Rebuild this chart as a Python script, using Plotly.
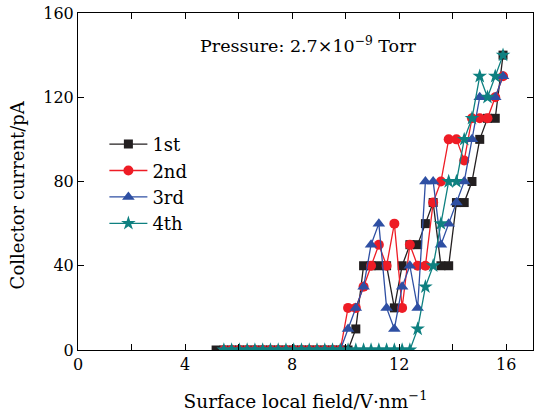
import plotly.graph_objects as go

# Shared field grid (V/nm)
field = [5.16, 5.45, 5.74, 6.03, 6.32, 6.61, 6.90, 7.19, 7.48, 7.77,
         8.06, 8.35, 8.64, 8.93, 9.22, 9.51, 9.80, 10.09, 10.38, 10.67,
         10.95, 11.24, 11.53, 11.82, 12.11, 12.40, 12.69, 12.98, 13.27, 13.56,
         13.85, 14.14, 14.43, 14.72, 15.01, 15.30, 15.59, 15.88]

x_1st = field
y_1st = [0, 0, 0, 0, 0, 0, 0, 0, 0, 0,
         0, 0, 0, 0, 0, 0, 0, 0, 10, 40,
         40, 40, 40, 20, 40, 50, 50, 60, 70, 40,
         40, 70, 70, 80, 100, 110, 110, 140]

x_2nd = field[1:]
y_2nd = [0, 0, 0, 0, 0, 0, 0, 0, 0,
         0, 0, 0, 0, 0, 0, 0, 20, 20, 30,
         40, 50, 40, 60, 20, 50, 40, 40, 70, 80,
         100, 100, 90, 110, 110, 110, 120, 130]

x_3rd = field[1:]
y_3rd = [0, 0, 0, 0, 0, 0, 0, 0, 0,
         0, 0, 0, 0, 0, 0, 0, 10, 20, 30,
         50, 60, 20, 10, 30, 40, 20, 80, 80, 50,
         60, 70, 80, 100, 120, 120, 120, 130]

x_4th = field[1:]
y_4th = [0, 0, 0, 0, 0, 0, 0, 0, 0,
         0, 0, 0, 0, 0, 0, 0, 0, 0, 0,
         0, 0, 0, 0, 0, 0, 10, 30, 40, 60,
         80, 80, 100, 110, 130, 120, 130, 140]

names = ["1st", "2nd", "3rd", "4th"]
colors = ["#231f20", "#ee1c25", "#2e4fa3", "#0e8080"]
symbols = ["square", "circle", "triangle-up", "star"]
sizes = [9, 10, 11, 11]
xs = [x_1st, x_2nd, x_3rd, x_4th]
ys = [y_1st, y_2nd, y_3rd, y_4th]

serif = "DejaVu Serif, Liberation Serif, serif"

fig = go.Figure()
for n, c, s, sz, x, y in zip(names, colors, symbols, sizes, xs, ys):
    fig.add_trace(go.Scatter(
        x=x, y=y, name=n, mode="lines+markers",
        line=dict(color=c, width=1.3),
        marker=dict(symbol=s, size=sz, color=c, line=dict(width=0)),
    ))

fig.add_annotation(
    x=0.507, y=0.944, xref="paper", yref="paper",
    text="Pressure: 2.7×10<sup>−9</sup> Torr", showarrow=False,
    font=dict(family=serif, size=17.5, color="black"),
)
# y-axis title placed as a rotated annotation
fig.add_annotation(
    x=-0.131, y=0.46, xref="paper", yref="paper",
    xanchor="center", yanchor="middle", textangle=-90,
    text="Collector current/pA", showarrow=False,
    font=dict(family=serif, size=18, color="black"),
)

fig.update_layout(
    width=534, height=412,
    margin=dict(l=78, r=1, t=13, b=62, autoexpand=False),
    plot_bgcolor="white", paper_bgcolor="white",
    font=dict(family=serif, size=16, color="black"),
    legend=dict(x=0.058, y=0.665, xanchor="left", yanchor="top",
                bgcolor="rgba(0,0,0,0)", font=dict(size=18, family=serif),
                itemwidth=38, tracegroupgap=0),
    showlegend=True,
)
fig.update_xaxes(
    range=[0, 17], tickvals=[0, 4, 8, 12, 16], showgrid=False, zeroline=False,
    showline=True, linecolor="black", linewidth=1, mirror="ticks",
    ticks="inside", ticklen=6, tickcolor="black", automargin=False,
    minor=dict(dtick=2, tick0=0, ticks="inside", ticklen=6, tickcolor="black"),
    title=dict(text="Surface local field/V·nm<sup>−1</sup>", font=dict(size=18.5), standoff=22),
    tickfont=dict(size=16),
)
fig.update_yaxes(
    range=[0, 160], tickvals=[0, 40, 80, 120, 160], showgrid=False, zeroline=False,
    showline=True, linecolor="black", linewidth=1, mirror="ticks",
    ticks="inside", ticklen=6, tickcolor="black", automargin=False,
    ticklabeloverflow="allow",
    tickfont=dict(size=16),
)

# remove the browser's default page margin so the figure sits at the window origin
fig.write_html("out.html", config={"displayModeBar": False},
               post_script="document.body.style.margin='0';")
